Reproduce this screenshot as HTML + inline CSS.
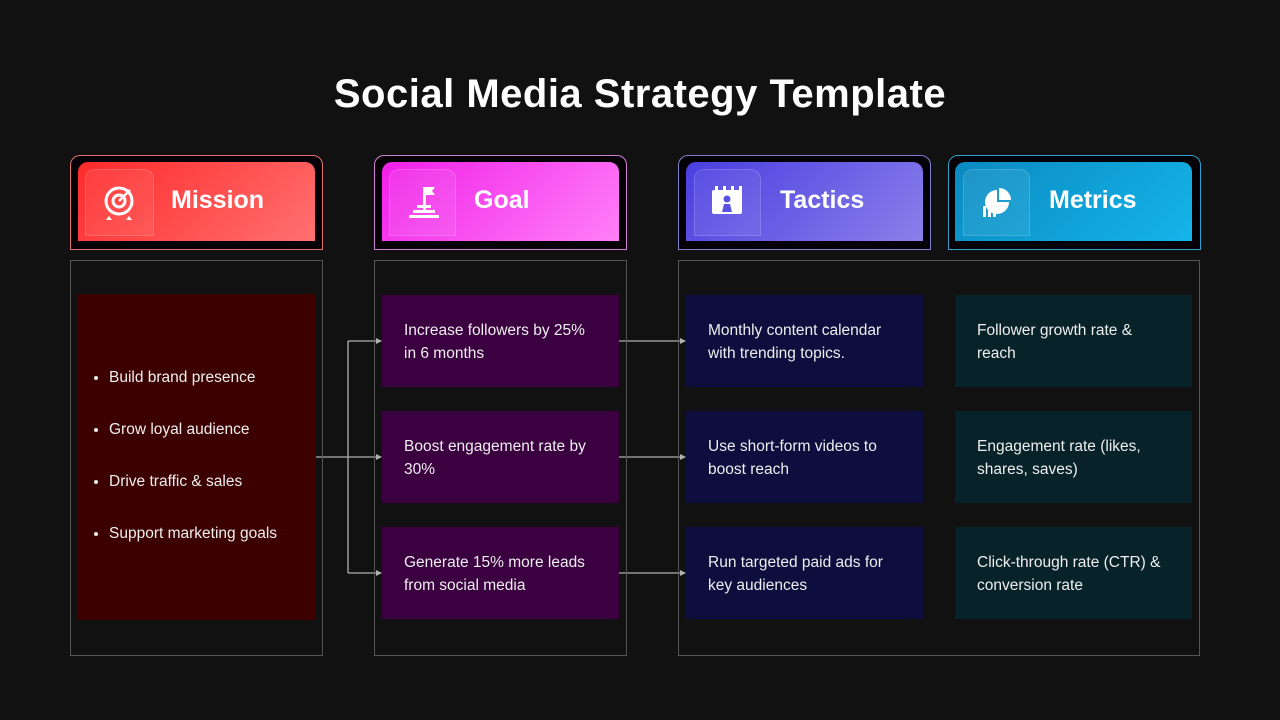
<!DOCTYPE html>
<html><head><meta charset="utf-8"><style>
body{margin:0;width:1280px;height:720px;background:#111111;position:relative;overflow:hidden;font-family:"Liberation Sans",sans-serif;color:#fff}
.a{position:absolute;box-sizing:border-box}
h1{position:absolute;top:72px;left:0;width:1280px;text-align:center;margin:0;font-size:40px;font-weight:bold;letter-spacing:0.5px}
.hf{border:1px solid;border-radius:10px 10px 0 0;background:#050005}
.hi{border-radius:10px 10px 0 0}
.tile{border:1px solid rgba(255,255,255,0.15);border-radius:10px 10px 0 0;background:rgba(255,255,255,0.08)}
.ht{font-size:25px;font-weight:bold}
.pan{border:1px solid #555}
.bx{font-size:15.5px;line-height:23px;padding:24px 0 0 22px;color:#eee}
ul{margin:0;padding:0 0 0 31px;font-size:15.5px;line-height:52px;color:#eee}
</style></head><body>
<h1>Social Media Strategy Template</h1>

<div class="a hf" style="left:70px;top:155px;width:253px;height:95px;border-color:#e07070"></div>
<div class="a hi" style="left:78px;top:162px;width:237px;height:79px;background:linear-gradient(135deg,#ff2a2a,#ff7070)"></div>
<div class="a tile" style="left:85px;top:169px;width:69px;height:67px"></div>
<div class="a ht" style="left:171px;top:186px">Mission</div>

<div class="a hf" style="left:374px;top:155px;width:253px;height:95px;border-color:#d080d0"></div>
<div class="a hi" style="left:382px;top:162px;width:237px;height:79px;background:linear-gradient(135deg,#f020e8,#ff80f8)"></div>
<div class="a tile" style="left:389px;top:169px;width:67px;height:67px"></div>
<div class="a ht" style="left:474px;top:186px">Goal</div>

<div class="a hf" style="left:678px;top:155px;width:253px;height:95px;border-color:#8080d0"></div>
<div class="a hi" style="left:686px;top:162px;width:237px;height:79px;background:linear-gradient(135deg,#4a3ee0,#8a80ea)"></div>
<div class="a tile" style="left:694px;top:169px;width:67px;height:67px"></div>
<div class="a ht" style="left:780px;top:186px">Tactics</div>

<div class="a hf" style="left:948px;top:155px;width:253px;height:95px;border-color:#30a0c8"></div>
<div class="a hi" style="left:955px;top:162px;width:237px;height:79px;background:linear-gradient(135deg,#0a8ac0,#14b4ea)"></div>
<div class="a tile" style="left:963px;top:169px;width:67px;height:67px"></div>
<div class="a ht" style="left:1049px;top:186px">Metrics</div>

<svg class="a" style="left:0;top:0" width="1280" height="720">
<g fill="none" stroke="#fff" stroke-width="3"><circle cx="119" cy="201" r="13"/><circle cx="119" cy="201" r="6"/></g>
<line x1="119" y1="201" x2="130" y2="190" stroke="#fff" stroke-width="2.5"/>
<path d="M109 216l-3 4h6zM129 216l3 4h-6z" fill="#fff"/>
<g fill="#fff"><rect x="423" y="187" width="3" height="26"/><path d="M426 187h9l-3 4 3 4h-9z"/><rect x="417" y="205" width="14" height="3"/><rect x="413" y="210" width="22" height="3"/><rect x="409" y="215" width="30" height="3"/></g>
<g fill="#fff"><rect x="712" y="190" width="30" height="24" rx="2"/><rect x="715" y="186" width="3" height="5"/><rect x="723" y="186" width="3" height="5"/><rect x="731" y="186" width="3" height="5"/><rect x="739" y="186" width="3" height="5"/></g>
<circle cx="727" cy="199" r="3.5" fill="#5a50e2"/><path d="M722 212l2-8h6l2 8z" fill="#5a50e2"/>
<g fill="#fff"><path d="M1009 202a12 12 0 1 1-12-12v12z"/><path d="M999 188a12 12 0 0 1 12 12h-12z"/><rect x="983" y="206" width="3" height="11"/><rect x="988" y="201" width="3" height="16"/><rect x="993" y="205" width="3" height="12"/></g>
<g stroke="#b0b0b0" stroke-width="1.3" fill="none"><path d="M316 457H381M348 341V573M348 341H381M348 573H381M619 341H685M619 457H685M619 573H685"/></g>
<g fill="#b0b0b0"><path d="M382 341l-6-3v6zM382 457l-6-3v6zM382 573l-6-3v6zM686 341l-6-3v6zM686 457l-6-3v6zM686 573l-6-3v6z"/></g>
</svg>

<div class="a pan" style="left:70px;top:260px;width:253px;height:396px"></div>
<div class="a pan" style="left:374px;top:260px;width:253px;height:396px"></div>
<div class="a pan" style="left:678px;top:260px;width:522px;height:396px"></div>

<div class="a" style="left:78px;top:294px;width:237px;height:326px;background:#3d0000;padding-top:58px"><ul><li>Build brand presence</li><li>Grow loyal audience</li><li>Drive traffic &amp; sales</li><li>Support marketing goals</li></ul></div>

<div class="a bx" style="left:382px;top:295px;width:237px;height:92px;background:#3a0040">Increase followers by 25%<br>in 6 months</div>
<div class="a bx" style="left:382px;top:411px;width:237px;height:92px;background:#3a0040">Boost engagement rate by<br>30%</div>
<div class="a bx" style="left:382px;top:527px;width:237px;height:92px;background:#3a0040">Generate 15% more leads<br>from social media</div>

<div class="a bx" style="left:686px;top:295px;width:237px;height:92px;background:#0d0d3e">Monthly content calendar<br>with trending topics.</div>
<div class="a bx" style="left:686px;top:411px;width:237px;height:92px;background:#0d0d3e">Use short-form videos to<br>boost reach</div>
<div class="a bx" style="left:686px;top:527px;width:237px;height:92px;background:#0d0d3e">Run targeted paid ads for<br>key audiences</div>

<div class="a bx" style="left:955px;top:295px;width:237px;height:92px;background:#08222a">Follower growth rate &amp;<br>reach</div>
<div class="a bx" style="left:955px;top:411px;width:237px;height:92px;background:#08222a">Engagement rate (likes,<br>shares, saves)</div>
<div class="a bx" style="left:955px;top:527px;width:237px;height:92px;background:#08222a">Click-through rate (CTR) &amp;<br>conversion rate</div>
</body></html>
